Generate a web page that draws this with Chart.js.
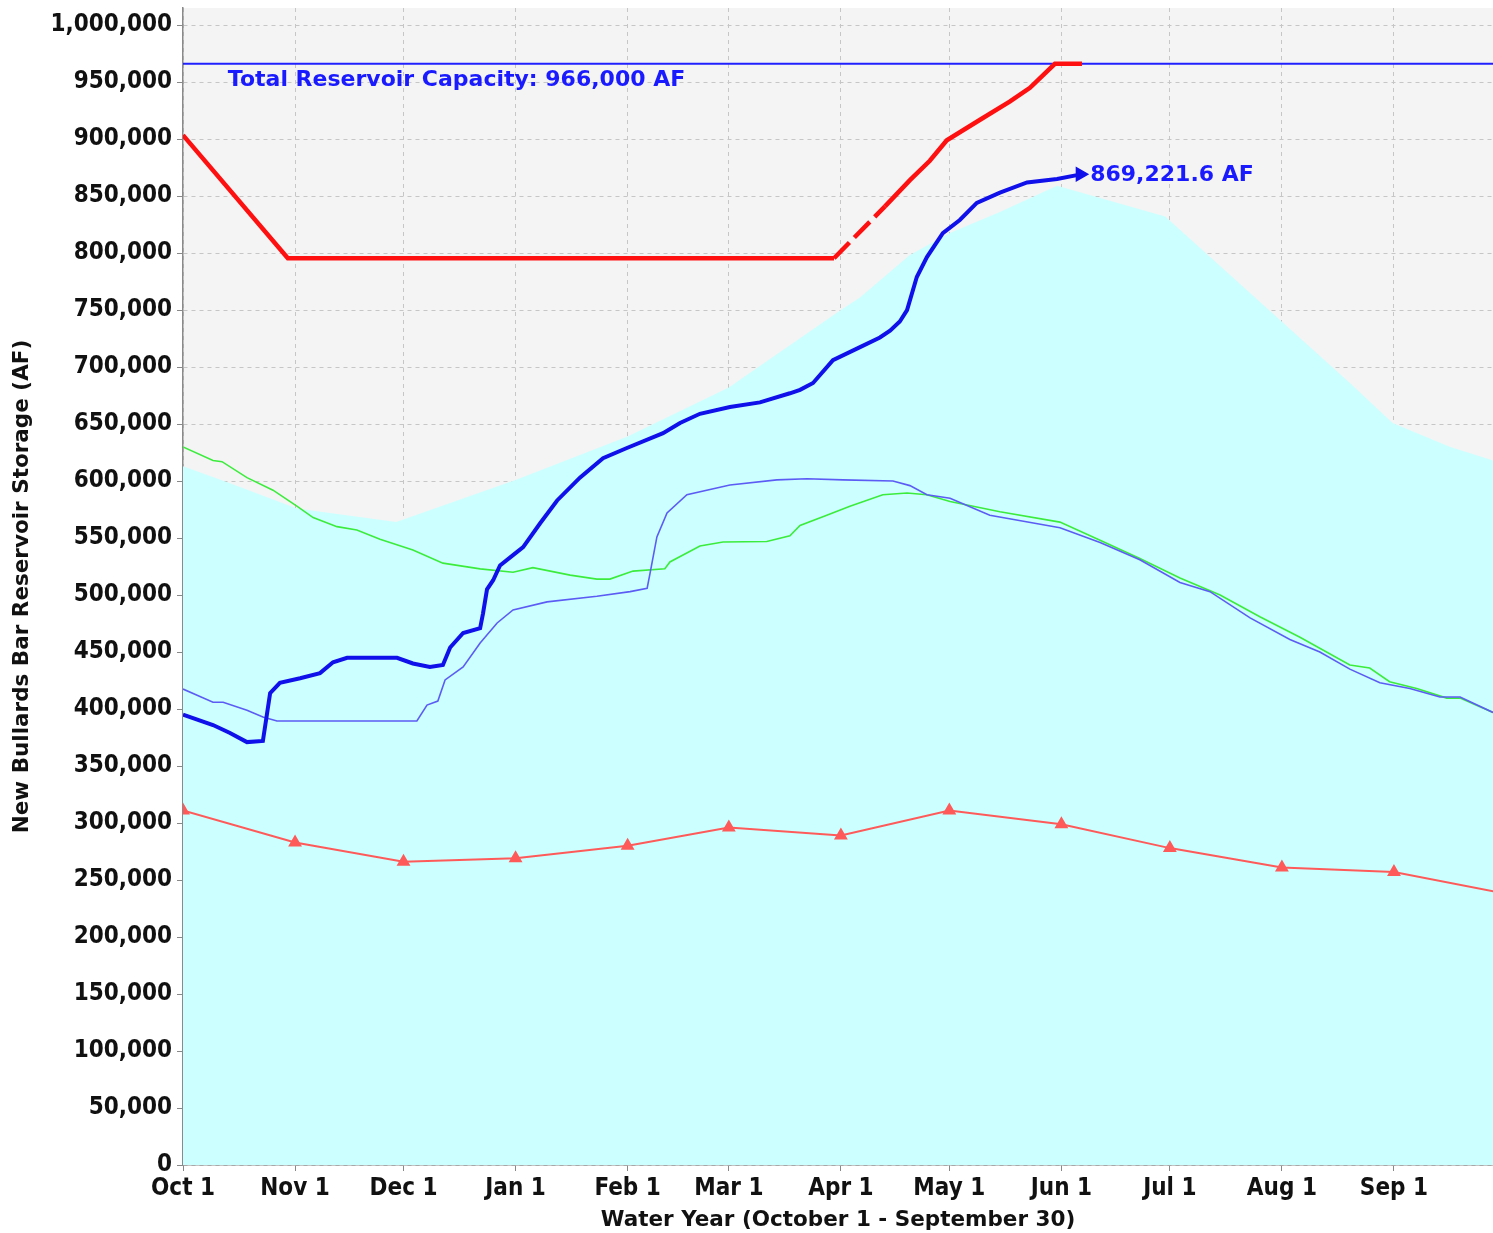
<!DOCTYPE html>
<html>
<head>
<meta charset="utf-8">
<title>New Bullards Bar Reservoir Storage</title>
<script src="https://cdn.jsdelivr.net/npm/chart.js@4/dist/chart.umd.min.js"></script>
<style>
  html, body { margin: 0; padding: 0; background: #ffffff; overflow: hidden; }
  #wrap { width: 1493px; height: 1233px; }
  #storageChart { display: block; width: 1493px; height: 1233px; }
</style>
</head>
<body>
<div id="wrap"><canvas id="storageChart" width="1493" height="1233"></canvas></div>
<script>
// Water year axis: day 0 = Oct 1
const monthDays = [0, 31, 61, 92, 123, 151, 182, 212, 243, 273, 304, 335];
const monthLabels = ["Oct 1", "Nov 1", "Dec 1", "Jan 1", "Feb 1", "Mar 1", "Apr 1", "May 1", "Jun 1", "Jul 1", "Aug 1", "Sep 1"];
const dayMax = 362.4;

// Storage axis ticks (AF)
const storageTicks = [0, 50000, 100000, 150000, 200000, 250000, 300000, 350000, 400000, 450000, 500000,
  550000, 600000, 650000, 700000, 750000, 800000, 850000, 900000, 950000, 1000000];
const storageMax = 1015000;

// Total capacity (AF)
const capacityAF = 966000;

// Current water year storage (thick blue)
const storageDays = [0, 8.3, 13, 17.7, 22.1, 23.2, 24.1, 26.8, 32.4, 37.9, 41.5, 45.4, 59.2, 63.6, 68.3, 71.9, 73.9, 77.5, 82.2, 83, 84.1, 85.8, 87.7, 91.3, 94.1, 98.8, 103.5, 109.8, 116.2, 122.8, 132.8, 137.5, 143, 151.3, 159.6, 167.9, 170.7, 174.3, 179.8, 187.3, 192.8, 195.6, 198.3, 200.3, 203, 205.8, 210.2, 214.9, 219.6, 226, 233.5, 241.8, 247.3, 248.2];
const storageAF = [395000, 386000, 379000, 371000, 372000, 395000, 414000, 423000, 427000, 431500, 441000, 445000, 445000, 440000, 437000, 438600, 454000, 466700, 471000, 484000, 505000, 513000, 526000, 535000, 542000, 563000, 583000, 603000, 620000, 629000, 642000, 651000, 659000, 665000, 669000, 677000, 680000, 686000, 706000, 717500, 726000, 732000, 740000, 750000, 779000, 796500, 817500, 829000, 844000, 853000, 862000, 865000, 868400, 869221.6];

// Flood control curve (thick red)
const floodDays = [0, 29, 180.1, 194.2, 201.1, 206.6, 211.3, 220.5, 228.8, 234.3, 241.2, 248.7];
const floodAF = [903500, 795500, 795500, 841000, 864000, 881000, 899000, 917000, 933000, 945000, 966000, 966000];

// Top of conservation / operating envelope (cyan area)
const envelopeDays = [0, 13, 31.5, 59, 92, 123, 151, 182, 187.3, 201, 212, 226, 241.8, 271.7, 322.8, 334.6, 350.4, 362.4];
const envelopeAF = [613000, 598000, 576000, 564000, 601000, 639000, 682000, 750000, 761000, 798000, 817500, 836000, 859000, 832000, 686000, 651000, 630000, 618000];

// Comparison year (thin blue)
const priorDays = [0, 8.3, 11.1, 17.7, 22.1, 26, 64.7, 67.5, 70.5, 72.5, 77.5, 82.2, 86.9, 91.3, 100.7, 114.5, 123.7, 128.4, 129.2, 131.1, 133.9, 139.4, 151.3, 164.3, 172.6, 182.6, 196.4, 201.1, 205.8, 212.2, 223.2, 242.6, 253.7, 264.7, 275.8, 284.1, 295.2, 306.2, 314.5, 322.8, 331.1, 339.4, 347.7, 353.3, 362.4];
const priorAF = [417500, 406000, 406000, 399000, 393000, 389500, 389500, 403500, 407000, 425500, 437000, 458000, 475500, 487000, 494000, 499000, 503000, 506000, 519000, 551000, 572000, 588000, 596500, 601000, 602000, 601000, 600000, 596000, 588000, 585000, 570000, 559000, 546000, 531000, 511000, 503000, 480000, 461000, 450000, 435000, 423000, 418000, 410500, 410500, 397000];

// Another reference year (green)
const greenDays = [0, 8.3, 10.8, 17.7, 24.9, 31.5, 36, 42.6, 48.1, 54.5, 63.6, 71.9, 82.2, 91.3, 96.8, 107.1, 114.5, 118.1, 124.5, 133.3, 134.7, 143, 149.4, 161.5, 167.9, 170.7, 178.1, 184.5, 193.6, 200.3, 205.8, 212.2, 226, 242.6, 253.7, 264.7, 275.8, 286.9, 297.9, 309, 322.8, 328.3, 333.8, 341.3, 349.6, 353.3, 362.4];
const greenAF = [630000, 618000, 617000, 603000, 592000, 578000, 568000, 560000, 557000, 549000, 539500, 528000, 523000, 520000, 524000, 517500, 514000, 514000, 521000, 523000, 529000, 543000, 546500, 547000, 552000, 561000, 570000, 578000, 588000, 589500, 588000, 582000, 573000, 564000, 548000, 532000, 515000, 500000, 481000, 463000, 438600, 436000, 424000, 418000, 409600, 409600, 397000];

// Historical monthly average (red triangles)
const avgDays = [0, 31, 61, 92, 123, 151, 182, 212, 243, 273, 304, 335, 365];
const avgAF = [311000, 283000, 266000, 269000, 280000, 296000, 289000, 311000, 299000, 278000, 261000, 257000, 238500];

function pairs(xs, ys) {
  return xs.map((x, i) => ({ x: x, y: ys[i] }));
}

const boldFont = "'DejaVu Sans', sans-serif";
const tickFont = "'DejaVu Sans Condensed', 'DejaVu Sans', sans-serif";

// fond gris clair de la zone de tracé
const plotBackground = {
  id: 'plotBackground',
  beforeDraw(chart) {
    const { ctx, chartArea: a } = chart;
    ctx.save();
    ctx.fillStyle = '#f4f4f4';
    ctx.fillRect(a.left, a.top, a.right - a.left, a.bottom - a.top);
    ctx.restore();
  }
};

// texte de la capacité et de la dernière valeur
const annotations = {
  id: 'annotations',
  afterDatasetsDraw(chart) {
    const { ctx, scales } = chart;
    const x = scales.x, y = scales.y;
    ctx.save();
    ctx.fillStyle = '#1a1aff';
    ctx.font = "bold 22px " + boldFont;
    ctx.textBaseline = 'alphabetic';
    ctx.textAlign = 'left';
    ctx.fillText('Total Reservoir Capacity: ' + capacityAF.toLocaleString('en-US') + ' AF',
      x.getPixelForValue(12.4), y.getPixelForValue(capacityAF) + 22);

    const last = storageAF.length - 1;
    const lx = x.getPixelForValue(storageDays[last]);
    const ly = y.getPixelForValue(storageAF[last]);
    ctx.textBaseline = 'middle';
    ctx.fillText(storageAF[last].toLocaleString('en-US', { minimumFractionDigits: 1 }) + ' AF', lx + 10, ly + 1);
    ctx.restore();
  }
};

const ctx = document.getElementById('storageChart').getContext('2d');

new Chart(ctx, {
  type: 'line',
  data: {
    datasets: [
      {
        label: 'Capacity',
        data: [{ x: 0, y: capacityAF }, { x: 365, y: capacityAF }],
        borderColor: '#2020ff',
        borderWidth: 2,
        pointRadius: 0,
        order: 1
      },
      {
        label: 'Monthly average',
        data: pairs(avgDays, avgAF),
        borderColor: '#ff5a5a',
        backgroundColor: '#ff5a5a',
        borderWidth: 2,
        pointStyle: 'triangle',
        pointRadius: 6,
        order: 2
      },
      {
        label: 'Green year',
        data: pairs(greenDays, greenAF),
        borderColor: '#3cec3c',
        borderWidth: 1.6,
        pointRadius: 0,
        order: 4
      },
      {
        label: 'Prior year',
        data: pairs(priorDays, priorAF),
        borderColor: '#5c5cf4',
        borderWidth: 1.6,
        pointRadius: 0,
        order: 3
      },
      {
        label: 'Flood control',
        data: pairs(floodDays, floodAF),
        borderColor: '#ff1010',
        borderWidth: 4.5,
        pointRadius: 0,
        segment: {
          // tronçon en tirets au début de la remontée
          borderDash: c => (c.p0.parsed.x >= 180 && c.p1.parsed.x <= 195) ? [22, 7] : undefined
        },
        order: 0
      },
      {
        label: 'Storage',
        data: pairs(storageDays, storageAF),
        borderColor: '#1010ea',
        backgroundColor: '#1010ea',
        borderWidth: 4,
        pointStyle: 'triangle',
        pointRotation: 90,
        pointRadius: c => c.dataIndex === storageAF.length - 1 ? 5 : 0,
        order: -1
      },
      {
        label: 'Envelope',
        data: pairs(envelopeDays, envelopeAF),
        borderWidth: 0,
        borderColor: 'rgba(0,0,0,0)',
        backgroundColor: '#ccffff',
        fill: 'origin',
        pointRadius: 0,
        order: 10
      }
    ]
  },
  options: {
    responsive: false,
    animation: false,
    events: [],
    // pas de marge automatique pour les points : la zone de tracé touche le bord droit
    layout: { autoPadding: false, padding: { top: 8, right: 0, left: 0, bottom: 0 } },
    plugins: {
      legend: { display: false },
      tooltip: { enabled: false }
    },
    scales: {
      x: {
        type: 'linear',
        min: 0,
        max: dayMax,
        afterBuildTicks: scale => {
          scale.ticks = monthDays.map(v => ({ value: v }));
        },
        afterFit: scale => {
          scale.height = 68;
          scale.paddingLeft = 0;
          scale.paddingRight = 0;
        },
        ticks: {
          autoSkip: false,
          maxRotation: 0,
          padding: 3,
          color: '#111',
          font: { family: tickFont, weight: 'bold', size: 24 },
          callback: v => monthLabels[monthDays.indexOf(v)]
        },
        grid: {
          color: '#c6c6c6',
          tickColor: '#888',
          tickLength: 6,
          tickBorderDash: []
        },
        border: { color: '#8a8a8a', width: 1.5, dash: [4, 4] },
        title: {
          display: true,
          text: 'Water Year (October 1 - September 30)',
          color: '#111',
          font: { family: boldFont, weight: 'bold', size: 21.5 },
          padding: { top: 0, bottom: 0 }
        }
      },
      y: {
        min: 0,
        max: storageMax,
        afterBuildTicks: scale => {
          scale.ticks = storageTicks.map(v => ({ value: v }));
        },
        afterFit: scale => {
          scale.width = 183;
          scale.paddingTop = 0;
          scale.paddingBottom = 0;
        },
        ticks: {
          padding: 5,
          color: '#111',
          font: { family: tickFont, weight: 'bold', size: 24 },
          callback: v => v.toLocaleString('en-US')
        },
        grid: {
          color: '#c6c6c6',
          tickColor: '#888',
          tickLength: 6,
          tickBorderDash: []
        },
        border: { color: '#8a8a8a', width: 1.5, dash: [4, 4] },
        title: {
          display: true,
          text: 'New Bullards Bar Reservoir Storage (AF)',
          color: '#111',
          font: { family: boldFont, weight: 'bold', size: 21.5 },
          padding: { top: 10, bottom: 0 }
        }
      }
    }
  },
  plugins: [plotBackground, annotations]
});
</script>
</body>
</html>
